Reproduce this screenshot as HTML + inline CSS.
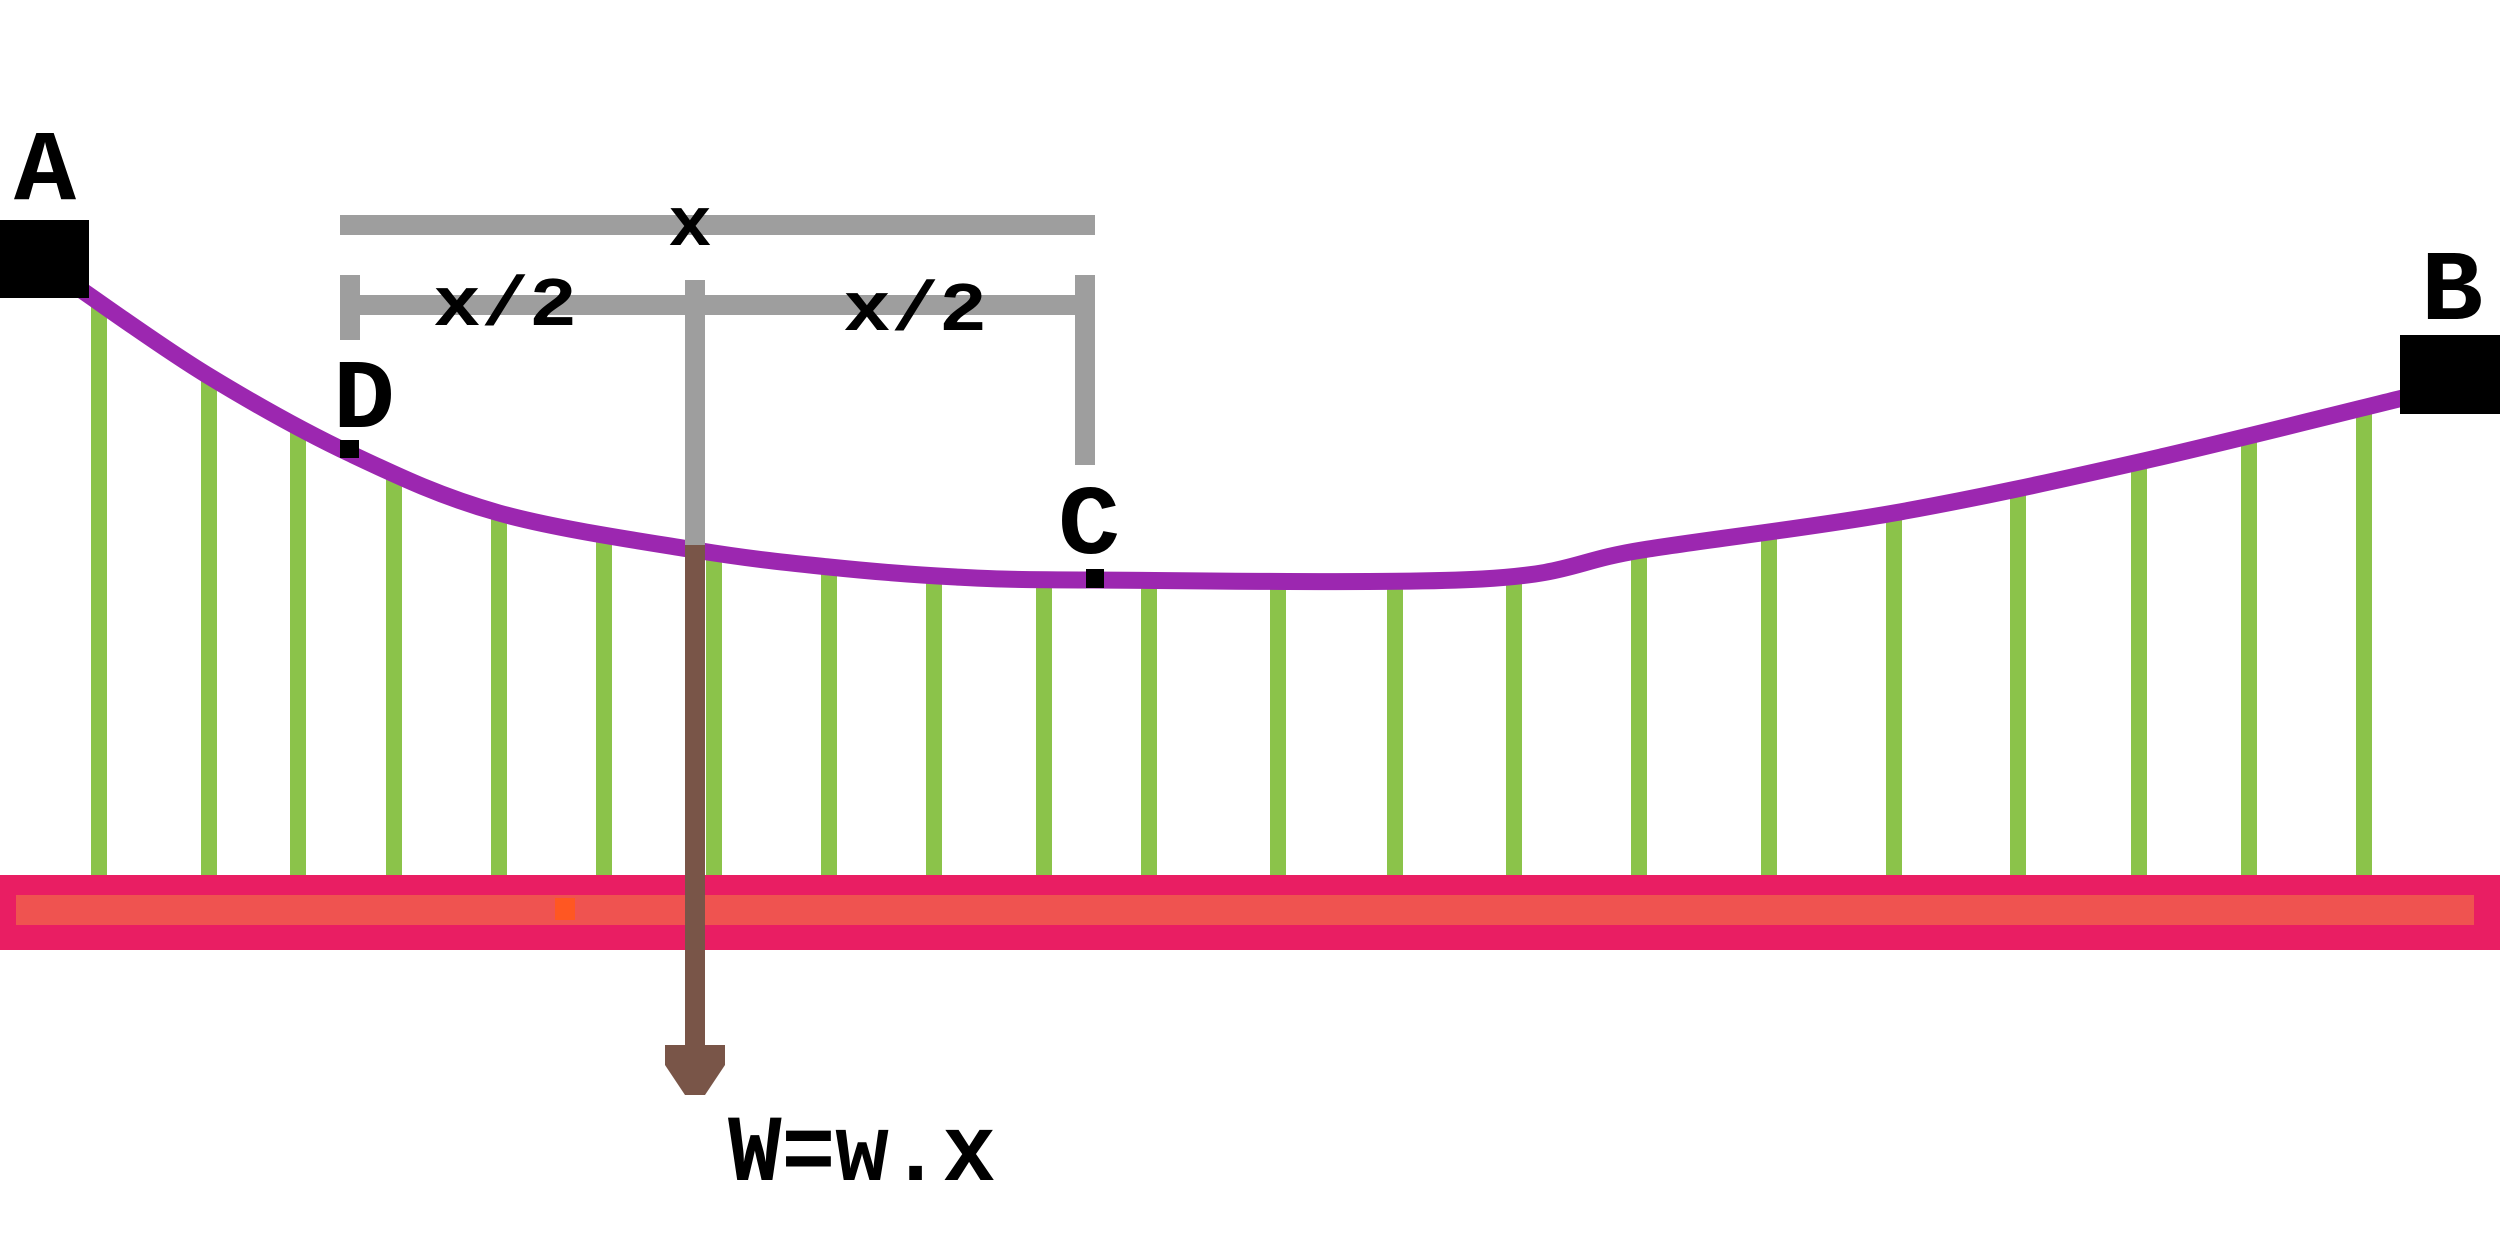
<!DOCTYPE html>
<html><head><meta charset="utf-8"><style>
html,body{margin:0;padding:0;background:#fff;}
svg{display:block;}
text{font-family:"Liberation Mono",monospace;font-weight:bold;fill:#000;}
</style></head><body>
<svg id="chart" width="2500" height="1250" viewBox="0 0 2500 1250" xmlns="http://www.w3.org/2000/svg">
<g id="hangers"></g>
<rect x="0" y="875" width="2500" height="75" fill="#e91e63"/>
<rect x="16" y="895" width="2458" height="30" fill="#ef5350"/>
<rect x="555" y="898" width="20" height="22" fill="#ff5722"/>
<path id="cable" fill="none" stroke="#9c27b0" stroke-width="17" stroke-linejoin="round"/>
<rect x="0" y="220" width="89" height="78" fill="#000"/>
<rect x="2400" y="335" width="100" height="79" fill="#000"/>
<text x="14" y="199" font-size="100" textLength="62" lengthAdjust="spacingAndGlyphs">A</text>
<text x="2421" y="319" font-size="100" textLength="62" lengthAdjust="spacingAndGlyphs">B</text>
<text x="333" y="427" font-size="98" textLength="62" lengthAdjust="spacingAndGlyphs">D</text>
<text x="1058" y="553" font-size="98" textLength="62" lengthAdjust="spacingAndGlyphs">C</text>
<rect x="340" y="440" width="19" height="18" fill="#000"/>
<rect x="1086" y="569" width="18" height="19" fill="#000"/>
<g fill="#9e9e9e">
<rect x="340" y="215" width="755" height="20"/>
<rect x="340" y="295" width="755" height="20"/>
<rect x="340" y="275" width="20" height="65"/>
<rect x="1075" y="275" width="20" height="190"/>
<rect x="685" y="280" width="20" height="270"/>
</g>
<text x="668" y="245" font-size="70" textLength="44" lengthAdjust="spacingAndGlyphs">x</text>
<text x="433" y="325" font-size="70" textLength="144" lengthAdjust="spacingAndGlyphs">x/2</text>
<text x="843" y="330" font-size="70" textLength="144" lengthAdjust="spacingAndGlyphs">x/2</text>
<rect x="685" y="545" width="20" height="505" fill="#795548"/>
<polygon points="665,1045 725,1045 725,1065 705,1095 685,1095 665,1065" fill="#795548"/>
<text x="728" y="1180" font-size="95" textLength="268" lengthAdjust="spacingAndGlyphs">W=w.x</text>
</svg>
<script>
const cableX = [77, 207, 351, 499, 695, 829, 956, 1093, 1482, 1642, 1894, 2139, 2415];
const cableY = [287, 375, 454, 513, 550, 567, 577, 580, 579, 550, 513, 462, 395];
const hangerX = [99, 209, 298, 394, 499, 604, 714, 829, 934, 1044, 1149, 1278, 1395, 1514, 1639, 1769, 1894, 2018, 2139, 2249, 2364];
const deckTop = 875;
function cableAt(x){
  for(let i=0;i<cableX.length-1;i++){
    if(x>=cableX[i]&&x<=cableX[i+1]){
      const t=(x-cableX[i])/(cableX[i+1]-cableX[i]);
      return cableY[i]+t*(cableY[i+1]-cableY[i]);
    }
  }
  return cableY[cableY.length-1];
}
const ns="http://www.w3.org/2000/svg";
const cable=document.getElementById('cable');
let d='M'+cableX[0]+','+cableY[0];
for(let i=0;i<cableX.length-1;i++){
  const x0=cableX[Math.max(i-1,0)], y0=cableY[Math.max(i-1,0)];
  const x1=cableX[i], y1=cableY[i], x2=cableX[i+1], y2=cableY[i+1];
  const x3=cableX[Math.min(i+2,cableX.length-1)], y3=cableY[Math.min(i+2,cableX.length-1)];
  const c1x=x1+(x2-x0)/6, c1y=y1+(y2-y0)/6, c2x=x2-(x3-x1)/6, c2y=y2-(y3-y1)/6;
  d+=' C'+c1x+','+c1y+' '+c2x+','+c2y+' '+x2+','+y2;
}
cable.setAttribute('d', d);
const hg=document.getElementById('hangers');
hangerX.forEach((x)=>{
  const r=document.createElementNS(ns,'rect');
  
  
  const top=cableAt(x);
  r.setAttribute('x', x-8);
  r.setAttribute('y', top);
  r.setAttribute('width', 16);
  r.setAttribute('height', deckTop-top);
  r.setAttribute('fill', '#8bc34a');
  hg.appendChild(r);
});
</script>
</body></html>
